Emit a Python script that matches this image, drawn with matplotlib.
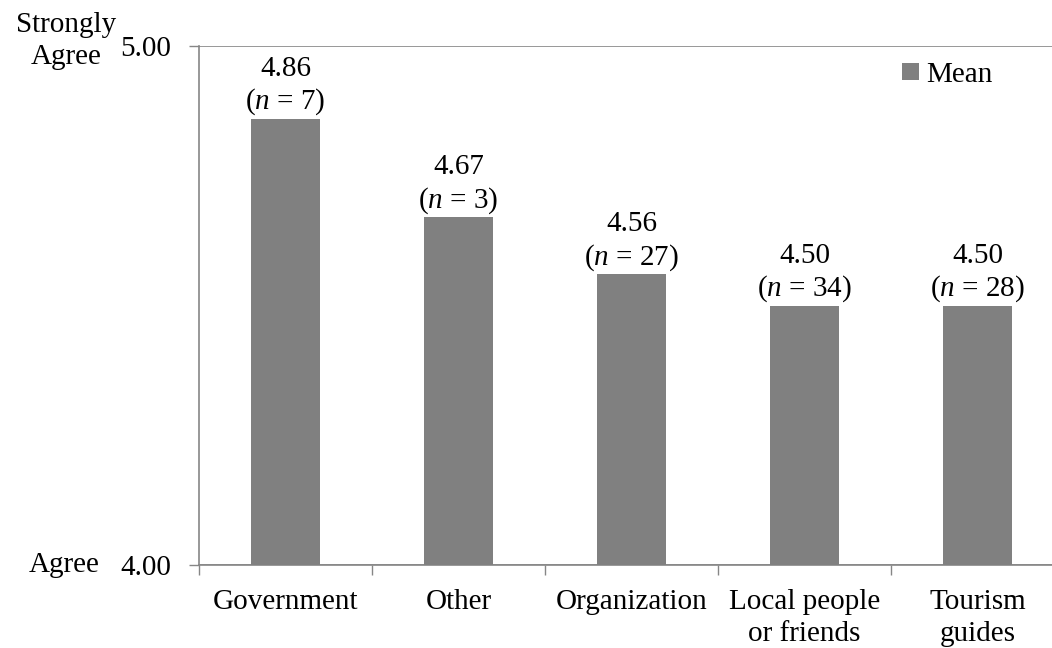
import matplotlib
matplotlib.use("Agg")
import matplotlib.pyplot as plt
from matplotlib.ticker import FixedLocator

categories = ["Government", "Other", "Organization", "Local people\nor friends", "Tourism\nguides"]
means = [4.86, 4.67, 4.56, 4.50, 4.50]
n_values = [7, 3, 27, 34, 28]
y_ticks = [4.00, 5.00]
y_tick_labels = ["4.00", "5.00"]

plt.rcParams['font.family'] = ['Liberation Serif', 'DejaVu Serif']
plt.rcParams['mathtext.fontset'] = 'custom'
plt.rcParams['mathtext.it'] = 'Liberation Serif:italic'
plt.rcParams['mathtext.rm'] = 'Liberation Serif'

FS = 21
axis_col = '#868686'
bar_col = '#808080'

fig = plt.figure(figsize=(10.52, 6.48), dpi=100)
W, H = 1052, 648
ax = fig.add_axes([199 / W, (H - 565) / H, 865 / W, 519 / H])

x = list(range(len(categories)))
bars = ax.bar(x, [m - 4.0 for m in means], bottom=4.0, width=0.4, color=bar_col, label='Mean', zorder=3)

ax.set_xlim(-0.5, len(categories) - 0.5)
ax.set_ylim(4.0, 5.0)

ax.set_xticks(x)
ax.set_xticklabels(categories, fontsize=FS, linespacing=1.3)
ax.tick_params(axis='x', which='major', length=0, pad=17)
ax.xaxis.set_minor_locator(FixedLocator([i - 0.5 for i in range(len(categories) + 1)]))
ax.tick_params(axis='x', which='minor', length=7, width=1.0, color=axis_col, direction='out')

ax.set_yticks(y_ticks)
ax.set_yticklabels(y_tick_labels, fontsize=FS)
ax.tick_params(axis='y', length=7, width=1.0, color=axis_col, direction='out', pad=13)

ax.yaxis.grid(True, color=axis_col, linewidth=1.2, zorder=0)
for s in ['top', 'right']:
    ax.spines[s].set_visible(False)
for s in ['left', 'bottom']:
    ax.spines[s].set_color(axis_col)
    ax.spines[s].set_linewidth(1.2)

for xi, m, n in zip(x, means, n_values):
    ax.annotate(f"{m:.2f}\n($n$ = {n})", xy=(xi, m), xytext=(0, 1),
                textcoords='offset points', ha='center', va='bottom',
                fontsize=FS, linespacing=1.22)

fig.text(66 / W, 1 - 41 / H, "Strongly\nAgree", ha='center', va='center', fontsize=FS, linespacing=1.25)
fig.text(100 / W, 1 - 565 / H, "Agree", ha='right', va='center', fontsize=FS)

leg = ax.legend(loc='upper right', bbox_to_anchor=(990 / 1064, 0.992), frameon=False,
                fontsize=FS, handlelength=0.55, handleheight=0.55, handletextpad=0.25, borderaxespad=0)

fig.savefig("out.png", dpi=100)
